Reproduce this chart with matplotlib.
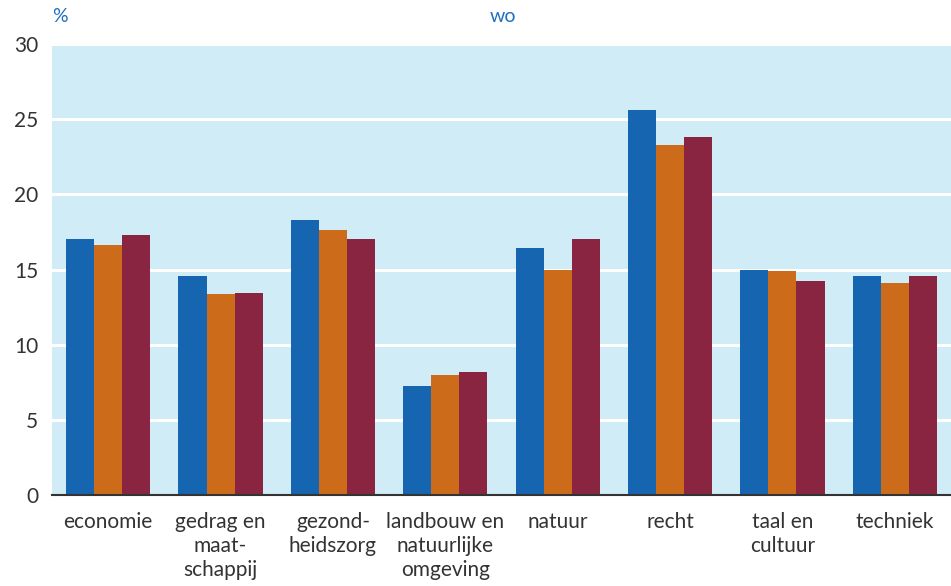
import numpy as np
import matplotlib.pyplot as plt

categories = ['economie', 'gedrag en\nmaat-\nschappij', 'gezond-\nheidszorg',
              'landbouw en\nnatuurlijke\nomgeving', 'natuur', 'recht',
              'taal en\ncultuur', 'techniek']
serie_a = [17.0, 14.6, 18.3, 7.25, 16.4, 25.6, 15.0, 14.6]
serie_b = [16.6, 13.4, 17.6, 8.0, 15.0, 23.3, 14.9, 14.1]
serie_c = [17.3, 13.45, 17.0, 8.2, 17.0, 23.8, 14.25, 14.6]
yticks = [0, 5, 10, 15, 20, 25, 30]

colors = ['#1565b0', '#cc6c1a', '#8a2541']
plt.rcParams['font.family'] = ['Lato', 'DejaVu Sans']

fig = plt.figure(figsize=(9.51, 5.86), dpi=100)
ax = fig.add_axes([52 / 951, 1 - 495 / 586, 1 - 52 / 951, (495 - 44) / 586])
ax.set_facecolor('#d0ecf6')

x = np.arange(len(categories))
w = 0.25
for i, vals in enumerate([serie_a, serie_b, serie_c]):
    ax.bar(x + (i - 1) * w, vals, w, color=colors[i], zorder=3)

ax.set_ylim(0, 30)
ax.set_xlim(-0.5, len(categories) - 0.5)
ax.set_yticks(yticks)
ax.set_yticklabels([str(t) for t in yticks], fontsize=15, color='#333333')
ax.set_xticks(x)
ax.set_xticklabels(categories, fontsize=15, color='#333333', linespacing=1.25)
ax.tick_params(axis='both', length=0)
ax.tick_params(axis='y', pad=10)
ax.tick_params(axis='x', pad=12)
ax.grid(axis='y', color='white', linewidth=2.2, zorder=1)
for s in ['top', 'right', 'left']:
    ax.spines[s].set_visible(False)
ax.spines['bottom'].set_color('#333333')
ax.spines['bottom'].set_linewidth(1.5)
ax.spines['bottom'].set_zorder(4)

fig.text(60 / 951, 1 - 17 / 586, '%', color='#1e6fc0', fontsize=14, ha='center', va='center')
fig.text(503 / 951, 1 - 17 / 586, 'wo', color='#1e6fc0', fontsize=14, ha='center', va='center')

fig.savefig('out.png', dpi=100)
